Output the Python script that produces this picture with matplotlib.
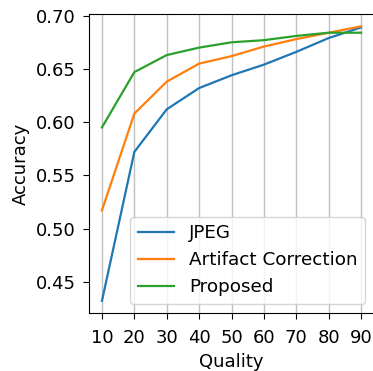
import matplotlib
matplotlib.use("Agg")
import matplotlib.pyplot as plt

quality = [10, 20, 30, 40, 50, 60, 70, 80, 90]
jpeg = [0.432, 0.572, 0.612, 0.632, 0.644, 0.654, 0.666, 0.679, 0.689]
artifact = [0.517, 0.608, 0.638, 0.655, 0.662, 0.671, 0.678, 0.684, 0.690]
proposed = [0.595, 0.647, 0.663, 0.670, 0.675, 0.677, 0.681, 0.684, 0.684]

fig = plt.figure(figsize=(3.73, 3.71), dpi=100)
ax = fig.add_axes([89 / 373, 58 / 371, 285 / 373, 299 / 371])

ax.plot(quality, jpeg, color='#1f77b4', linewidth=1.6, label='JPEG')
ax.plot(quality, artifact, color='#ff7f0e', linewidth=1.6, label='Artifact Correction')
ax.plot(quality, proposed, color='#2ca02c', linewidth=1.6, label='Proposed')

ax.set_xticks(quality)
ax.set_yticks([0.45, 0.50, 0.55, 0.60, 0.65, 0.70])
ax.set_ylim(0.4206, 0.7016)
ax.grid(axis='x', color='#c0c0c0', linewidth=1.0)
ax.set_axisbelow(True)
ax.tick_params(labelsize=13, length=4.5, pad=5)
ax.tick_params(axis='x', pad=7)
ax.set_xlabel('Quality', fontsize=13)
ax.set_ylabel('Accuracy', fontsize=13)
ax.legend(loc='lower right', fontsize=13.2)

fig.savefig('out.png', dpi=100)
